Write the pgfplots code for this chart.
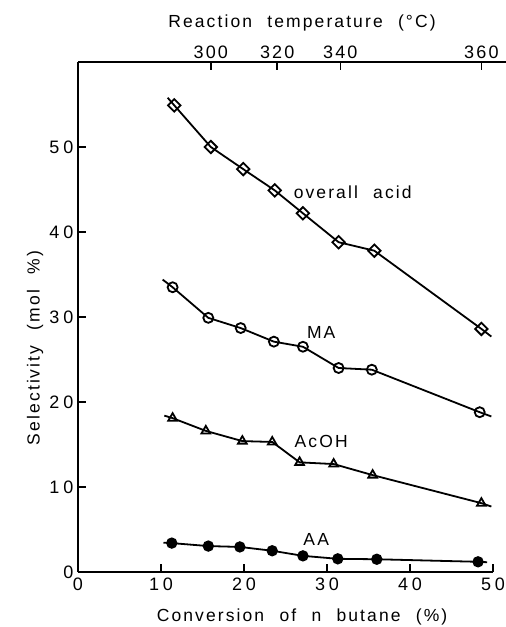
\documentclass[border=0pt]{standalone}
\usepackage{fontspec}
\setmainfont[LetterSpace=12,WordSpace=2.2]{Liberation Sans}
\usepackage{pgfplots}
\pgfplotsset{compat=1.18}

\begin{document}
\begin{tikzpicture}[font=\fontsize{17.5}{21}\selectfont]
\useasboundingbox (-78pt,-55pt) rectangle (428pt,572pt);
\begin{axis}[name=main, scale only axis, width=415pt, height=510pt,
  xmin=0, xmax=50, ymin=0, ymax=60,
  axis x line=bottom, axis y line=left,
  axis line style={-, line width=1.5pt},
  xtick={0,10,...,50}, ytick={0,10,...,50},
  tick align=inside, major tick length=8pt,
  tick style={line width=1.5pt, black},
  /pgf/number format/assume math mode=true,
  ticklabel style={font=\fontsize{18}{21}\selectfont\addfontfeature{LetterSpace=22}},
  yticklabel style={xshift=-1pt},
  xticklabel style={yshift=-2pt},
  xlabel={Conversion of n butane (\%)},
  ylabel={Selectivity (mol \%)},
  xlabel style={at={(axis description cs:0.54,-0.088)}, anchor=center},
  ylabel style={at={(axis description cs:-0.1036,0.439)}, anchor=center},
  every axis plot/.append style={black, line width=1.8pt, mark options={solid, line width=1.7pt}},
  clip=false]
% overall acid
\addplot[mark=square, mark size=4.4pt, mark options={rotate=45, fill=white}, mark indices={2,3,4,5,6,7,8,9}] coordinates {
 (10.8,55.8) (11.6,54.9) (16.0,50.0) (19.9,47.4) (23.7,44.9) (27.1,42.2) (31.4,38.8) (35.7,37.8) (48.6,28.6) (49.8,27.7)};
% MA
\addplot[mark=o, mark size=5pt, mark options={fill=white}, mark indices={2,3,4,5,6,7,8,9}] coordinates {
 (10.2,34.4) (11.4,33.5) (15.7,29.9) (19.6,28.7) (23.6,27.1) (27.1,26.5) (31.4,24.0) (35.4,23.8) (48.4,18.8) (49.8,18.3)};
% AcOH
\addplot[mark=triangle, mark size=5pt, mark options={fill=white}, mark indices={2,3,4,5,6,7,8,9}] coordinates {
 (10.4,18.4) (11.4,18.1) (15.4,16.6) (19.8,15.4) (23.4,15.3) (26.7,12.9) (30.8,12.7) (35.5,11.4) (48.6,8.1) (49.8,7.7)};
% AA
\addplot[mark=*, mark size=4.8pt, mark indices={2,3,4,5,6,7,8,9}] coordinates {
 (10.3,3.45) (11.3,3.4) (15.7,3.05) (19.5,2.95) (23.4,2.5) (27.1,1.9) (31.3,1.55) (36.0,1.5) (48.2,1.2) (49.3,1.15)};
\node at (axis cs:33.1,44.7) {overall acid};
\node at (axis cs:29.3,28.2) {MA};
\node at (axis cs:29.3,15.4) {AcOH};
\node at (axis cs:28.7,3.8) {AA};
\end{axis}
\begin{axis}[scale only axis, width=428.3pt, height=510pt,
  xmin=0, xmax=51.6, ymin=0, ymax=60,
  axis x line*=top, axis y line=none,
  axis line style={-, line width=1.5pt},
  xtick={16,24,31.6,48.6}, xticklabels={300,320,340,360},
  ytick=\empty,
  tick align=inside, major tick length=8pt,
  tick style={line width=1.5pt, black},
  ticklabel style={font=\fontsize{18}{21}\selectfont},
  xlabel={Reaction temperature (°C)},
  xlabel style={at={(axis description cs:0.523,1.0765)}, anchor=center}]
\addplot[draw=none] coordinates {(0,0)};
\end{axis}
\end{tikzpicture}
\end{document}
